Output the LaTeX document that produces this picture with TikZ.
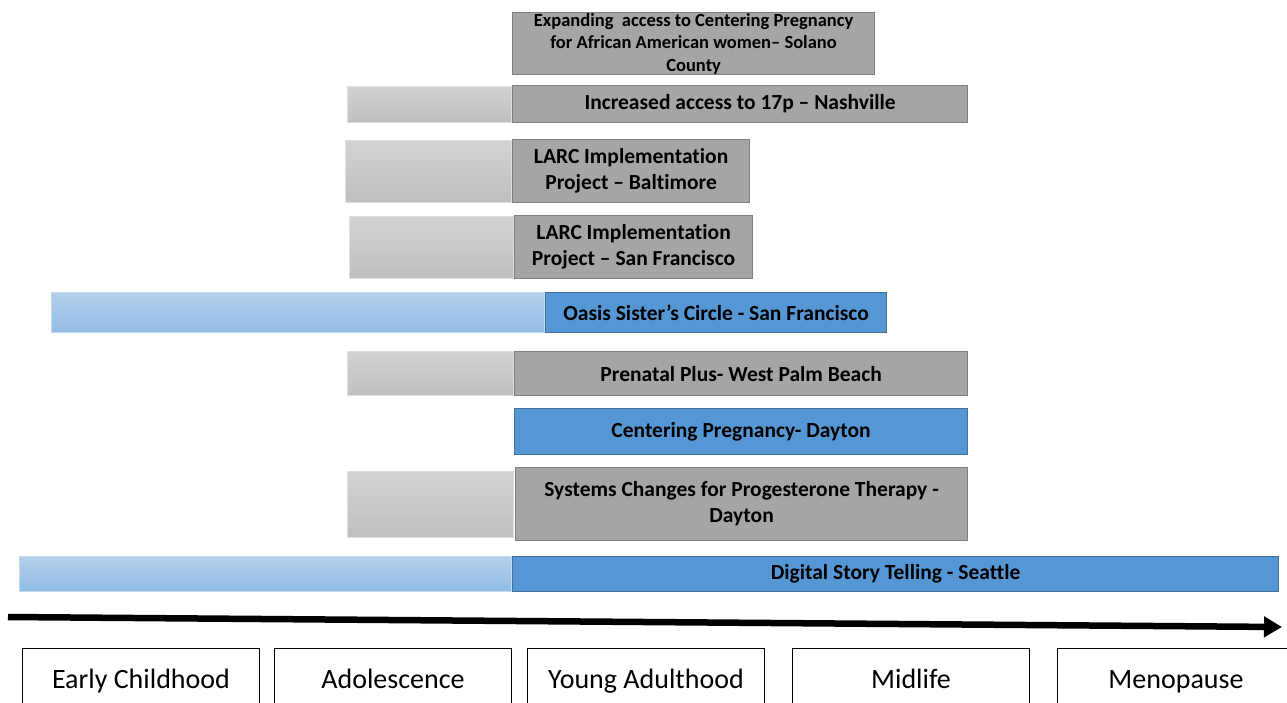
\documentclass[tikz,border=0pt]{standalone}
\usepackage{fontspec}
\setmainfont{Carlito}[Ligatures=NoCommon]
\usetikzlibrary{arrows.meta,positioning}
\definecolor{boxgray}{HTML}{A5A5A5}
\definecolor{linegray}{HTML}{7F7F7F}
\definecolor{boxblue}{HTML}{5597D5}
\definecolor{lineblue}{HTML}{41719C}
\tikzset{>=latex}

\begin{document}
\begin{tikzpicture}[x=1pt, y=-1pt,
  gbox/.style={draw=linegray, fill=boxgray, line width=1.2pt, anchor=north west, inner sep=0pt, align=center, font=\fontsize{21.5}{26}\selectfont\bfseries},
  bbox/.style={gbox, draw=lineblue, fill=boxblue},
  gfade/.style={inner sep=0pt, top color=gray!35, bottom color=gray!50, draw=gray!25, line width=.6pt},
  bfade/.style={inner sep=0pt, top color=boxblue!45, bottom color=boxblue!65, draw=boxblue!35, line width=.6pt},
  agebox/.style={draw, line width=1pt, anchor=north west, minimum width=237pt, minimum height=76pt, inner sep=0pt, text height=.7em, text depth=.22em, font=\fontsize{28}{32}\selectfont},
  axis/.style={line width=6.5pt, -{Triangle[length=18pt,width=20pt]}}]
		\useasboundingbox (0,0) rectangle (1287,702);

		\node[gbox, minimum width=362pt, minimum height=62pt, font=\fontsize{18.5}{22.5}\selectfont\bfseries] (centering) at (512,12) {Expanding\ \ access to Centering Pregnancy\\for African American women-- Solano\\County};

		\node[gbox, minimum width=455pt, minimum height=37pt] (nashville) at (512,85) {Increased access to 17p -- Nashville};
		\node[gfade, minimum width=164pt, minimum height=36pt, left=0pt of nashville] (nashvillefade) {};

		\node[gbox, minimum width=237pt, minimum height=63pt] (baltimore) at (512,139) {LARC Implementation\\Project -- Baltimore};
		\node[gfade, minimum width=166pt, minimum height=62pt, left=0pt of baltimore] (baltimorefade) {};

		\node[gbox, minimum width=238pt, minimum height=63pt] (larcsf) at (514,215) {LARC Implementation\\Project -- San Francisco};
		\node[gfade, minimum width=164pt, minimum height=62pt, left=0pt of larcsf] (larcsffade) {};

		\node[bbox, minimum width=341pt, minimum height=40pt] (oasis) at (545,292) {Oasis Sister’s Circle - San Francisco};
		\node[bfade, minimum width=493pt, minimum height=40pt, left=0pt of oasis] (oasisfade) {};

		\node[gbox, minimum width=453pt, minimum height=44pt] (palmbeach) at (514,351) {Prenatal Plus- West Palm Beach};
		\node[gfade, minimum width=166pt, minimum height=44pt, left=0pt of palmbeach] (palmbeachfade) {};

		\node[bbox, minimum width=453pt, minimum height=46pt] (dayton) at (514,408) {Centering Pregnancy- Dayton};

		\node[gbox, minimum width=452pt, minimum height=73pt] (progesterone) at (515,467) {Systems Changes for Progesterone Therapy -\\Dayton};
		\node[gfade, minimum width=166pt, minimum height=66pt, left=1pt of progesterone] (progesteronefade) {};

		\node[bbox, minimum width=766pt, minimum height=35pt] (seattle) at (512,556) {Digital Story Telling - Seattle};
		\node[bfade, minimum width=492pt, minimum height=35pt, left=0pt of seattle] (seattlefade) {};

		% life course axis
		\coordinate (axisstart) at (8,617);
		\coordinate (axisend)   at (1282,627);
		\draw[axis] (axisstart) -- (axisend);

		\node[agebox] (early)  at (22,648)   {Early Childhood};
		\node[agebox] (adol)   at (274,648)  {Adolescence};
		\node[agebox] (young)  at (527,648)  {Young Adulthood};
		\node[agebox] (mid)    at (792,648)  {Midlife};
		\node[agebox] (meno)   at (1057,648) {Menopause};
	\end{tikzpicture}
\end{document}
